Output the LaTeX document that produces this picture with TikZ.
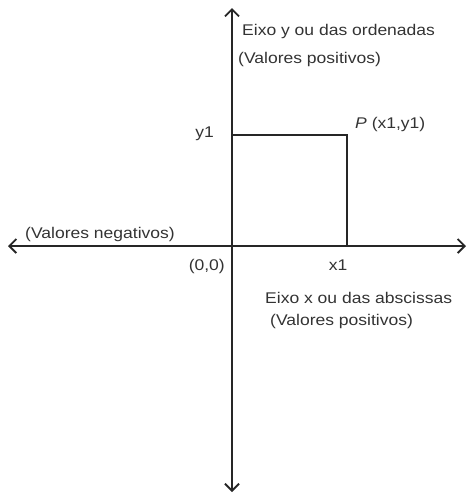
\documentclass[tikz,border=0pt]{standalone}
\usepackage{fontspec}
\setmainfont[FakeStretch=1.13]{Liberation Sans}
\usetikzlibrary{arrows.meta,positioning}

\begin{document}
\begin{tikzpicture}[
  x=1pt, y=-1pt,
  axis/.style={{Straight Barb[length=7pt,width=14pt]}-{Straight Barb[length=7pt,width=14pt]},
               line width=1.9pt, draw=black!85},
  edge/.style={line width=1.9pt, draw=black!85},
  lbl/.style={font=\fontsize{15.5}{18}\selectfont, text=black!80, inner sep=0pt},
]
\useasboundingbox (0,0) rectangle (471,496);

%% Axes
\coordinate (o)      at (232,246);
\coordinate (xneg)   at (8,246);
\coordinate (xpos)   at (466,246);
\coordinate (ypos)   at (232,8);
\coordinate (yneg)   at (232,492);
\draw[axis] (xneg) -- (xpos);
\draw[axis] (yneg) -- (ypos);

%% Point P and its projections
\coordinate (p)      at (347,135);
\coordinate (py)     at (232,135);
\coordinate (px)     at (347,246);
\draw[edge] (py) -- (p) -- (px);

%% Labels
\node[lbl, anchor=base west] (yname) at (242,35) {Eixo y ou das ordenadas};
\node[lbl, anchor=base west] (ypos lbl) at (238,63) {(Valores positivos)};
\node[lbl, anchor=base east] (y1) at (214,137) {y1};
\node[lbl, anchor=base west] (plbl) at (355,128) {\textit{P} (x1,y1)};
\node[lbl, anchor=base west] (xneg lbl) at (25,238) {(Valores negativos)};
\node[lbl, anchor=base east] (orig) at (225,270) {(0,0)};
\node[lbl, anchor=base] (x1) at (338,270) {x1};
\node[lbl, anchor=base west] (xname) at (265,303) {Eixo x ou das abscissas};
\node[lbl, anchor=base west] (xpos lbl) at (270,325) {(Valores positivos)};
\end{tikzpicture}
\end{document}
